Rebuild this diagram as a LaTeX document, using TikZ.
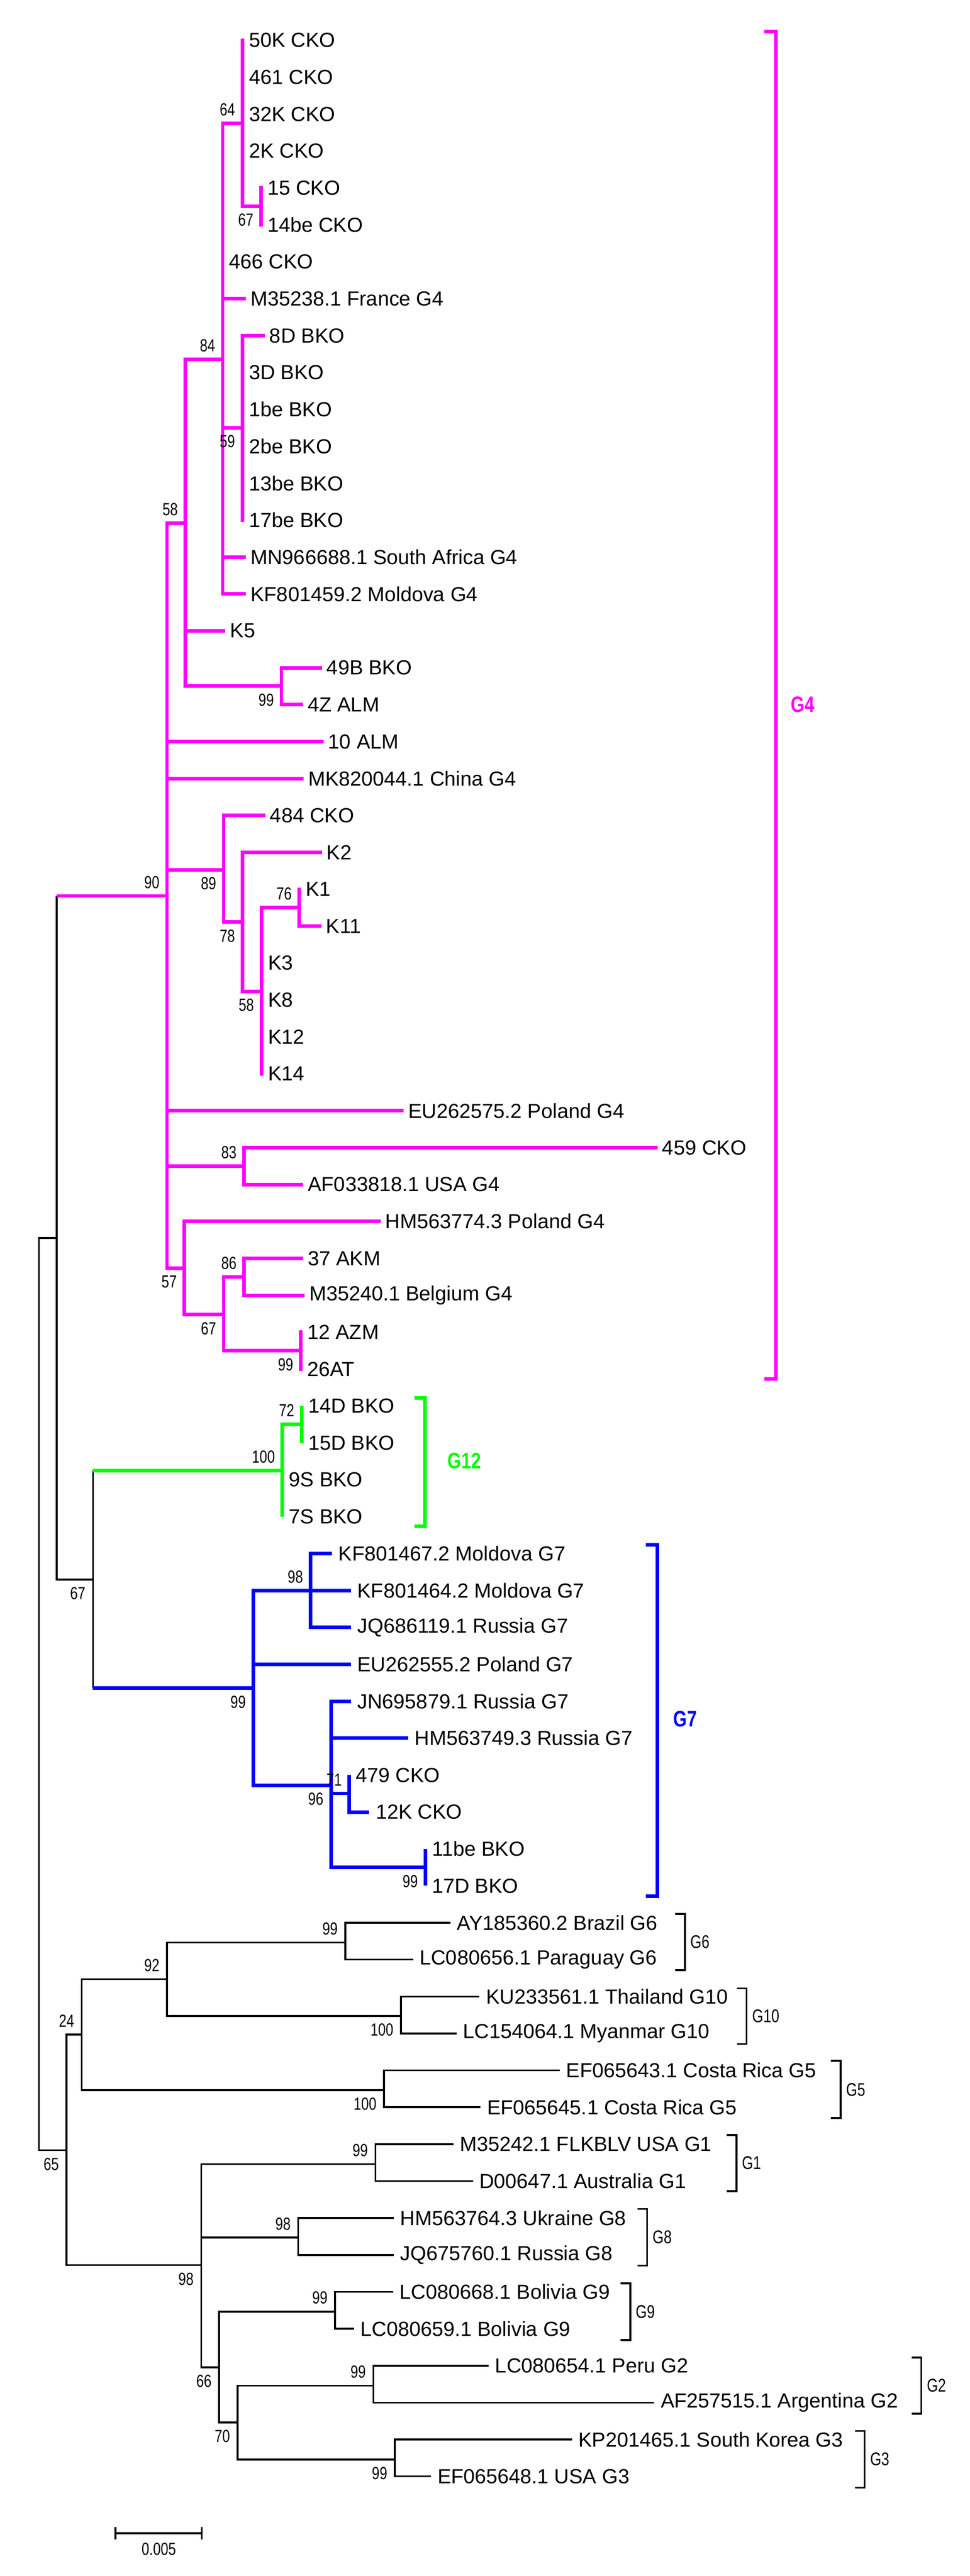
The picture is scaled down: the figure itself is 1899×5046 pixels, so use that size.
\documentclass[tikz,border=0pt]{standalone}
\usepackage{fontspec}
\setmainfont{Liberation Sans}
\newfontfamily\bsfont{Liberation Sans}[FakeStretch=0.78]
\definecolor{mg}{RGB}{255,0,255}
\definecolor{gr}{RGB}{0,255,0}
\definecolor{bl}{RGB}{0,0,255}
\begin{document}
\begin{tikzpicture}[x=0.25pt,y=-0.25pt,
  lab/.style={anchor=west,inner sep=0pt,font=\fontsize{10}{12}\selectfont},
  bsA/.style={anchor=south east,inner sep=0pt,font=\bsfont\fontsize{8.6}{10}\selectfont},
  bsB/.style={anchor=north east,inner sep=0pt,font=\bsfont\fontsize{8.6}{10}\selectfont},
  mag/.style={draw=mg,line width=1.75pt},
  grn/.style={draw=gr,line width=1.75pt},
  blu/.style={draw=bl,line width=1.75pt},
  blk/.style={draw=black,line width=0.9pt},
  glab/.style={anchor=west,inner sep=0pt,font=\bfseries\bsfont\fontsize{11}{13}\selectfont},
  klab/.style={anchor=west,inner sep=0pt,font=\bsfont\fontsize{9}{11}\selectfont}]
\useasboundingbox (0,0) rectangle (1899,5046);
\newcommand{\lf}[4]{\pgfmathsetmacro{\yy}{79+72.3*#3}\coordinate (#1) at (#2,\yy);
  \node[lab] (#1-t) at ([xshift=3pt]#1) {#4};}
\newcommand{\ba}[2]{\node[bsA] at ([shift={(-14,-14)}]#1) {#2};}
\newcommand{\bb}[2]{\node[bsB] at ([shift={(-14,14)}]#1) {#2};}
% leaves
\lf{l0}{475}{0}{50K CKO}
\lf{l1}{475}{1}{461 CKO}
\lf{l2}{475}{2}{32K CKO}
\lf{l3}{475}{3}{2K CKO}
\lf{l4}{511}{4}{15 CKO}
\lf{l5}{511}{5}{14be CKO}
\lf{l6}{436}{6}{466 CKO}
\lf{l7}{478}{7}{M35238.1 France G4}
\lf{l8}{515}{8}{8D BKO}
\lf{l9}{475}{9}{3D BKO}
\lf{l10}{475}{10}{1be BKO}
\lf{l11}{475}{11}{2be BKO}
\lf{l12}{475}{12}{13be BKO}
\lf{l13}{475}{13}{17be BKO}
\lf{l14}{478}{14}{MN966688.1 South Africa G4}
\lf{l15}{478}{15}{KF801459.2 Moldova G4}
\lf{l16}{438}{16}{K5}
\lf{l17}{627}{17}{49B BKO}
\lf{l18}{590}{18}{4Z ALM}
\lf{l19}{630}{19}{10 ALM}
\lf{l20}{591}{20}{MK820044.1 China G4}
\lf{l21}{516}{21}{484 CKO}
\lf{l22}{627}{22}{K2}
\lf{l23}{586}{23}{K1}
\lf{l24}{626}{24}{K11}
\lf{l25}{512}{25}{K3}
\lf{l26}{512}{26}{K8}
\lf{l27}{512}{27}{K12}
\lf{l28}{512}{28}{K14}
\lf{l29}{787}{29}{EU262575.2 Poland G4}
\lf{l30}{1284}{30}{459 CKO}
\lf{l31}{590}{31}{AF033818.1 USA G4}
\lf{l32}{742}{32}{HM563774.3 Poland G4}
\lf{l33}{590}{33}{37 AKM}
\lf{l34}{593}{34}{M35240.1 Belgium G4}
\lf{l35}{589}{35}{12 AZM}
\lf{l36}{589}{36}{26AT}
\lf{l37}{591}{37}{14D BKO}
\lf{l38}{591}{38}{15D BKO}
\lf{l39}{553}{39}{9S BKO}
\lf{l40}{553}{40}{7S BKO}
\lf{l41}{650}{41}{KF801467.2 Moldova G7}
\lf{l42}{687}{42}{KF801464.2 Moldova G7}
\lf{l43}{687}{43}{JQ686119.1 Russia G7}
\lf{l44}{687}{44}{EU262555.2 Poland G7}
\lf{l45}{687}{45}{JN695879.1 Russia G7}
\lf{l46}{799}{46}{HM563749.3 Russia G7}
\lf{l47}{684}{47}{479 CKO}
\lf{l48}{723}{48}{12K CKO}
\lf{l49}{833}{49}{11be BKO}
\lf{l50}{833}{50}{17D BKO}
\lf{l51}{882}{51}{AY185360.2 Brazil G6}
\lf{l52}{809}{52}{LC080656.1 Paraguay G6}
\lf{l53}{939}{53}{KU233561.1 Thailand G10}
\lf{l54}{894}{54}{LC154064.1 Myanmar G10}
\lf{l55}{1096}{55}{EF065643.1 Costa Rica G5}
\lf{l56}{941}{56}{EF065645.1 Costa Rica G5}
\lf{l57}{888}{57}{M35242.1 FLKBLV USA G1}
\lf{l58}{926}{58}{D00647.1 Australia G1}
\lf{l59}{771}{59}{HM563764.3 Ukraine G8}
\lf{l60}{771}{60}{JQ675760.1 Russia G8}
\lf{l61}{770}{61}{LC080668.1 Bolivia G9}
\lf{l62}{693}{62}{LC080659.1 Bolivia G9}
\lf{l63}{957}{63}{LC080654.1 Peru G2}
\lf{l64}{1281}{64}{AF257515.1 Argentina G2}
\lf{l65}{1120}{65}{KP201465.1 South Korea G3}
\lf{l66}{844}{66}{EF065648.1 USA G3}
% internal nodes
\coordinate (n64) at (475,242);  \coordinate (n67a) at (511,404);
\coordinate (n84) at (436,704);  \coordinate (n59) at (475,838);
\coordinate (n58) at (363,1025); \coordinate (n99a) at (551,1344);
\coordinate (n90) at (327,1755); \coordinate (n89) at (438,1704);
\coordinate (n78) at (475,1806); \coordinate (n58b) at (512,1942);
\coordinate (n76) at (586,1778); \coordinate (n83) at (478,2284);
\coordinate (n57) at (361,2484); \coordinate (n86) at (478,2501);
\coordinate (n67b) at (438,2575); \coordinate (n99b) at (589,2646);
\coordinate (nA) at (111,2425); \coordinate (nR) at (76,3318);
\coordinate (n67r) at (182,3094);
\coordinate (n100g) at (553,2881); \coordinate (n72) at (591,2790);
\coordinate (n99g7) at (496,3307); \coordinate (n98) at (608,3116);
\coordinate (n96) at (648,3497); \coordinate (n71) at (684,3513);
\coordinate (n99c) at (833,3658);
\coordinate (n65) at (130,4212); \coordinate (n24) at (160,3985);
\coordinate (n92) at (327,3877); \coordinate (n99g6) at (676,3805);
\coordinate (n100g10) at (785,3949); \coordinate (n100g5) at (752,4094);
\coordinate (n98m) at (394,4437); \coordinate (n99g1) at (735,4239);
\coordinate (n98g8) at (584,4383); \coordinate (n66) at (429,4637);
\coordinate (n99g9) at (656,4528); \coordinate (n70) at (465,4745);
\coordinate (n99g2) at (731,4673); \coordinate (n99g3) at (773,4818);
% G4 edges
\foreach \p/\c in {n64/l0,n64/l1,n64/l2,n64/l3,n64/n67a,n67a/l4,n67a/l5,
  n84/n64,n84/l6,n84/l7,n84/n59,n84/l14,n84/l15,
  n59/l8,n59/l9,n59/l10,n59/l11,n59/l12,n59/l13,
  n58/n84,n58/l16,n58/n99a,n99a/l17,n99a/l18,
  n90/n58,n90/l19,n90/l20,n90/n89,n90/l29,n90/n83,n90/n57,
  n89/l21,n89/n78,n78/l22,n78/n58b,n58b/n76,n58b/l25,n58b/l26,n58b/l27,n58b/l28,
  n76/l23,n76/l24,n83/l30,n83/l31,n57/l32,n57/n67b,n67b/n86,n67b/n99b,
  n86/l33,n86/l34,n99b/l35,n99b/l36}
  {\draw[mag,line cap=rect] (\p) |- (\c);}
% G12
\foreach \p/\c in {n100g/n72,n100g/l39,n100g/l40,n72/l37,n72/l38}
  {\draw[grn] (\p) |- (\c);}
% G7
\foreach \p/\c in {n99g7/n98,n99g7/l44,n99g7/n96,n98/l41,n98/l42,n98/l43,
  n96/l45,n96/l46,n96/n71,n96/n99c,n71/l47,n71/l48,n99c/l49,n99c/l50}
  {\draw[blu] (\p) |- (\c);}
% root connectors
\draw[blk] (nR) |- (nA); \draw[blk] (nR) |- (n65);
\draw[blk] (nA) -- (nA|-n90); \draw[mag] (nA|-n90) -- (n90);
\draw[blk] (nA) |- (n67r);
\draw[blk] (n67r) -- (n67r|-n100g); \draw[grn] (n67r|-n100g) -- (n100g);
\draw[blk] (n67r) -- (n67r|-n99g7); \draw[blu] (n67r|-n99g7) -- (n99g7);
% lower tree
\foreach \p/\c in {n65/n24,n65/n98m,n24/n92,n24/n100g5,n92/n99g6,n92/n100g10,
  n99g6/l51,n99g6/l52,n100g10/l53,n100g10/l54,n100g5/l55,n100g5/l56,
  n98m/n99g1,n98m/n98g8,n98m/n66,n99g1/l57,n99g1/l58,n98g8/l59,n98g8/l60,
  n66/n99g9,n66/n70,n99g9/l61,n99g9/l62,n70/n99g2,n70/n99g3,
  n99g2/l63,n99g2/l64,n99g3/l65,n99g3/l66}
  {\draw[blk] (\p) |- (\c);}
% bootstrap values
\ba{n64}{64} \bb{n67a}{67} \ba{n84}{84} \bb{n59}{59} \ba{n58}{58}
\bb{n99a}{99} \ba{n90}{90} \bb{n89}{89} \ba{n76}{76} \bb{n78}{78}
\bb{n58b}{58} \ba{n83}{83} \bb{n57}{57} \ba{n86}{86} \bb{n67b}{67}
\bb{n99b}{99} \ba{n72}{72} \ba{n100g}{100} \bb{n67r}{67}
\ba{n98}{98} \bb{n99g7}{99} \ba{n71}{71} \bb{n96}{96} \bb{n99c}{99}
\ba{n99g6}{99} \ba{n92}{92} \ba{n24}{24} \bb{n100g10}{100} \bb{n100g5}{100}
\bb{n65}{65} \ba{n99g1}{99} \ba{n98g8}{98} \bb{n98m}{98} \ba{n99g9}{99}
\bb{n66}{66} \ba{n99g2}{99} \bb{n70}{70} \bb{n99g3}{99}
% coloured brackets
\coordinate (g4a) at (1497,62); \coordinate (g4b) at (1497,2701);
\draw[mag] (g4a) -- ++(22,0) |- (g4b);
\node[glab,text=mg] (g4t) at (1548,1380) {G4};
\coordinate (g12a) at (811,2738); \coordinate (g12b) at (811,2990);
\draw[grn] (g12a) -- ++(21,0) |- (g12b);
\node[glab,text=gr] (g12t) at (876,2862) {G12};
\coordinate (g7a) at (1265,3026); \coordinate (g7b) at (1265,3714);
\draw[blu] (g7a) -- ++(22,0) |- (g7b);
\node[glab,text=bl] (g7t) at (1318,3367) {G7};
% black brackets
\foreach \n/\x/\ya/\yb in {G6/1341/3749/3859,G10/1462/3895/4004,G5/1646/4037/4149,
  G1/1442/4182/4292,G8/1267/4327/4438,G9/1234/4473/4584,G2/1804/4618/4728,G3/1693/4762/4873}
  {\coordinate (b\n a) at (\x-19,\ya); \coordinate (b\n b) at (\x-19,\yb);
   \draw[blk] (b\n a) -- ++(19,0) |- (b\n b);
   \node[klab] (b\n t) at (\x+10,{(\ya+\yb)/2}) {\n};}
% scale bar
\coordinate (sb1) at (226,4962); \coordinate (sb2) at (395,4962);
\draw[blk] (sb1) -- (sb2);
\draw[blk] ([yshift=3pt]sb1) -- ([yshift=-3pt]sb1);
\draw[blk] ([yshift=3pt]sb2) -- ([yshift=-3pt]sb2);
\node[bsB,anchor=north] (sbt) at (311,4980) {0.005};
\end{tikzpicture}
\end{document}
